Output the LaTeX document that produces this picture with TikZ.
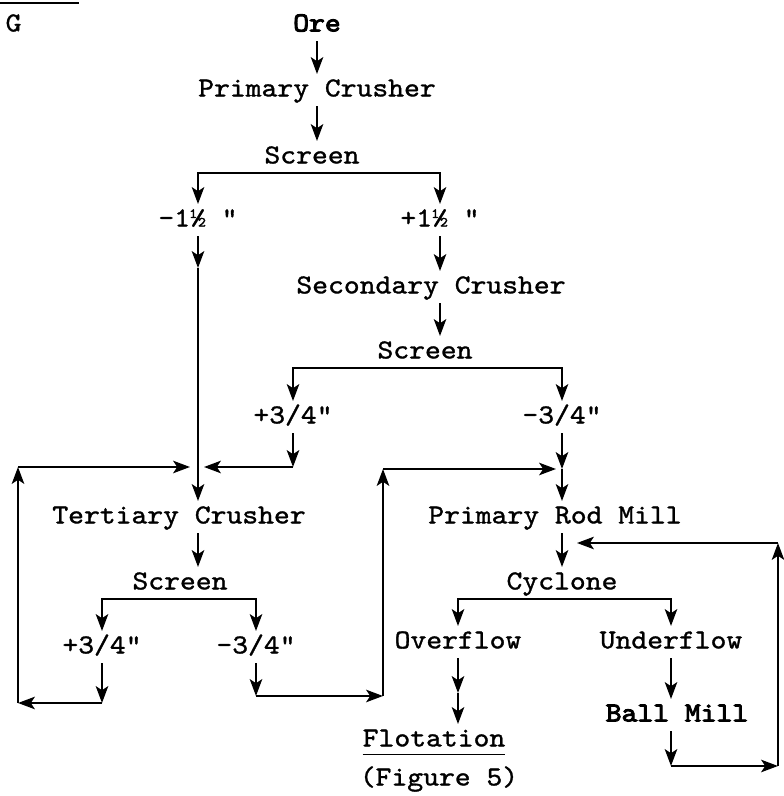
\documentclass[tikz,border=0pt]{standalone}
\usepackage{fontspec}
\newfontfamily\tyfont{lmmono10-regular.otf}[FakeStretch=1.1, FakeBold=1.2]
\newfontfamily\tybold{lmmono10-regular.otf}[FakeStretch=1.1, FakeBold=3.4]
\usetikzlibrary{arrows.meta}

\begin{document}
\begin{tikzpicture}[
  x=0.025cm, y=-0.025cm,
  >={Stealth[length=4.2mm, width=3.1mm, inset=1mm]},
  lbl/.style={
    font=\fontsize{19.5}{22}\tyfont\selectfont,
    inner sep=0pt, outer sep=4pt, text height=0.42cm, text depth=0.1cm
  },
  bld/.style={lbl, font=\fontsize{19.5}{22}\tybold\selectfont},
  arr/.style={->, line width=1.6pt},
  split/.style={<->, line width=1.6pt},
]
\useasboundingbox (0,0) rectangle (783,796);

% Heading fragment
\draw[line width=1.6pt] (0,3) -- (79,3);
\node[lbl, anchor=west] (head) at (0,25) {G};

% =============================================
% Primary crushing
% =============================================
\node[bld] (ore) at (317,25) {Ore};
\node[lbl] (pcrush) at (317,90) {Primary Crusher};
\node[lbl] (scr1) at (312,157) {Screen};
\node[lbl] (m15) at (198,220) {-1½ "};
\node[lbl] (p15) at (440,220) {+1½ "};

\draw[arr] (ore) -- (pcrush);
\draw[arr] (pcrush) -- (pcrush |- scr1.north);
\draw[split] (m15) |- (scr1.south) -| (p15);

% =============================================
% Secondary crushing
% =============================================
\node[lbl] (scrush) at (431,287) {Secondary Crusher};
\node[lbl] (scr2) at (425,352) {Screen};
\node[lbl] (p34a) at (293,417) {+3/4"};
\node[lbl] (m34a) at (562,417) {-3/4"};

\draw[arr] (p15) -- (p15 |- scrush.north);
\draw[arr] (p15 |- scrush.south) -- (p15 |- scr2.north);
\draw[split] (p34a) |- (scr2.south) -| (m34a);

% =============================================
% Tertiary crushing
% =============================================
\node[lbl] (tcrush) at (179,517) {Tertiary Crusher};
\node[lbl] (scr3) at (180,583) {Screen};
\node[lbl] (p34b) at (102,647) {+3/4"};
\node[lbl] (m34b) at (256,647) {-3/4"};

\coordinate (j1) at (198,268);
\coordinate (j2) at (293,467);
\coordinate (j3) at (204,467);
\draw[arr] (m15) -- (j1);
\draw[arr] (j1) -- (j1 |- tcrush.north);
\draw[arr] (p34a) -- (j2);
\draw[arr] (j2) -- (j3);
\draw[arr] (j1 |- tcrush.south) -- (j1 |- scr3.north);
\draw[split] (p34b) |- (scr3.south) -| (m34b);

% Oversize back to tertiary crusher
\coordinate (b1) at (102,703);
\coordinate (l1) at (18,703);
\coordinate (l2) at (18,467);
\coordinate (l3) at (190,467);
\draw[arr] (p34b) -- (b1);
\draw[arr] (b1) -- (l1);
\draw[arr] (l1) -- (l2);
\draw[arr] (l2) -- (l3);

% Undersize on to rod mill
\coordinate (b2) at (256,696);
\coordinate (r1) at (383,696);
\coordinate (r2) at (383,469);
\coordinate (r3) at (556,469);
\draw[arr] (m34b) -- (b2);
\draw[arr] (b2) -- (r1);
\draw[arr] (r1) -- (r2);
\draw[arr] (r2) -- (r3);

% =============================================
% Grinding
% =============================================
\node[lbl] (rodmill) at (555,517) {Primary Rod Mill};
\node[lbl] (cyc) at (562,583) {Cyclone};
\node[lbl] (ovf) at (458,642) {Overflow};
\node[lbl] (unf) at (671,642) {Underflow};
\node[lbl] (flot) at (434,740) {\underline{Flotation\vphantom{g}}};
\node[lbl] (fig5) at (439,779) {(Figure 5)};
\node[bld] (bmill) at (677,715) {Ball Mill};

\coordinate (j5) at (562,469);
\draw[arr] (m34a) -- (j5);
\draw[arr] (j5) -- (j5 |- rodmill.north);
\draw[arr] (j5 |- rodmill.south) -- (cyc);
\draw[split] (ovf) |- (cyc.south) -| (unf);

\coordinate (j6) at (458,693);
\draw[arr] (ovf) -- (j6);
\draw[arr] (j6) -- (j6 |- flot.north);
\draw[arr] (unf) -- (unf |- bmill.north);

% Ball mill discharge back to cyclone feed
\coordinate (q1) at (577,543);
\coordinate (q2) at (778,543);
\coordinate (q3) at (778,766);
\coordinate (q4) at (671,766);
\draw[arr] (unf |- bmill.south) -- (q4);
\draw[arr] (q4) -- (q3);
\draw[arr] (q3) -- (q2);
\draw[arr] (q2) -- (q1);

\end{tikzpicture}
\end{document}
